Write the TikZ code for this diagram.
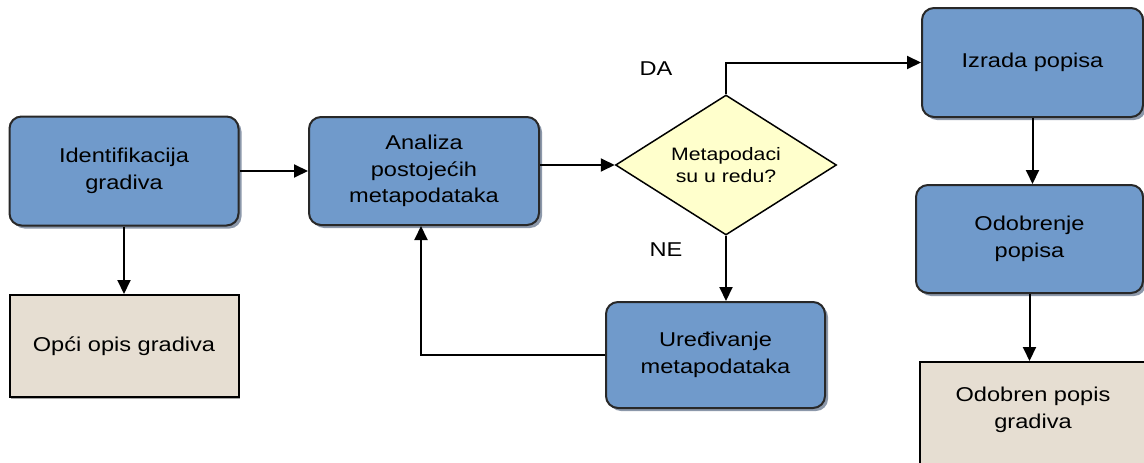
\documentclass[tikz,border=0pt]{standalone}
\usepackage{fontspec}
\usetikzlibrary{arrows.meta,shapes.geometric,shadows}
\newfontfamily\lab[FakeStretch=1.18]{Liberation Sans}
\definecolor{stepblue}{RGB}{112,154,203}
\definecolor{stepshadow}{RGB}{140,152,170}
\definecolor{docbeige}{RGB}{230,222,210}
\definecolor{askyellow}{RGB}{255,255,204}
\definecolor{edgegray}{RGB}{40,40,40}
\tikzset{
  stepbox/.style={draw=edgegray, line width=2pt, fill=stepblue, rounded corners=12pt,
    align=center, inner sep=0pt,
    font=\lab\fontsize{20}{26.5}\selectfont,
    drop shadow={shadow xshift=3pt, shadow yshift=-3pt, fill=stepshadow, opacity=1}},
  docbox/.style={draw=black, line width=2pt, fill=docbeige, align=center, inner sep=0pt,
    font=\lab\fontsize{20}{26.5}\selectfont,
    drop shadow={shadow xshift=1.5pt, shadow yshift=-1.5pt, fill=black!35, opacity=1}},
  askbox/.style={diamond, draw=black, line width=1.5pt, fill=askyellow, inner sep=0pt,
    aspect=1.58, align=center, font=\lab\fontsize{18}{21.7}\selectfont},
  flow/.style={line width=2pt, -{Triangle[length=14pt,width=13pt]}},
  tag/.style={font=\lab\fontsize{20}{22}\selectfont}
}
\begin{document}
\begin{tikzpicture}[x=1pt,y=-1pt]
  \useasboundingbox (0,0) rectangle (1144,463);
  \clip (0,0) rectangle (1144,463);

  % process steps
  \node[stepbox, minimum width=229pt, minimum height=109pt] (ident) at (124,171) {Identifikacija\\gradiva};
  \node[stepbox, minimum width=230pt, minimum height=108pt] (analiza) at (424,171) {Analiza\\postojećih\\metapodataka};
  \node[askbox, minimum width=221pt, minimum height=140pt] (ask) at (726,165) {Metapodaci\\su u redu?};
  \node[stepbox, minimum width=219pt, minimum height=106pt] (ured) at (715.5,355) {Uređivanje\\metapodataka};
  \node[stepbox, minimum width=221pt, minimum height=109pt] (izrada) at (1032.5,62.5) {Izrada popisa};
  \node[stepbox, minimum width=227pt, minimum height=108pt] (odobrenje) at (1029.5,239) {Odobrenje\\popisa};

  % resulting documents
  \node[docbox, minimum width=229pt, minimum height=102pt] (opci) at (124,346) {Opći opis gradiva};
  \node[docbox, minimum width=226pt, minimum height=110pt,
        label={[yshift=7pt, align=center, font=\lab\fontsize{20}{26.5}\selectfont]center:Odobren popis\\gradiva}]
        (odobren) at (1033,417) {};

  % connectors
  \draw[flow] (ident.east) -- (analiza.west);
  \draw[flow] (ident.south) -- (opci.north);
  \draw[flow] (analiza.east |- ask.west) -- (ask.west);
  \draw[flow] (ask.north) |- (izrada.west);
  \draw[flow] (ask.south) -- (ask.south |- ured.north);
  \draw[flow] (ured.west) -| ([xshift=-3pt]analiza.south);
  \draw[flow] (izrada.south) -- (izrada.south |- odobrenje.north);
  \draw[flow] (odobrenje.south) -- (odobrenje.south |- odobren.north);

  % branch labels
  \node[tag] (da) at (656,69) {DA};
  \node[tag] (ne) at (666,250) {NE};
\end{tikzpicture}
\end{document}
